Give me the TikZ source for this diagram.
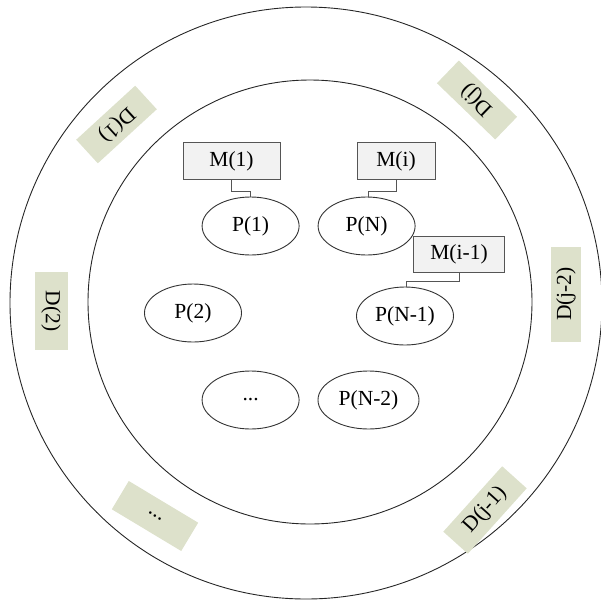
\documentclass[tikz,border=0pt]{standalone}
\usepackage{fontspec}
\setmainfont{Liberation Serif}
\usetikzlibrary{shapes.geometric}
\definecolor{diskfill}{HTML}{DDE1CB}
\definecolor{memfill}{HTML}{F2F2F2}
\definecolor{edgegray}{HTML}{555555}
\tikzset{
  ring/.style={draw=black!85, line width=0.9pt},
  proc/.style={ellipse, draw=black!80, line width=0.9pt, fill=white,
               minimum width=97pt, minimum height=58pt, inner sep=0pt},
  mem/.style={rectangle, draw=edgegray, line width=1pt, fill=memfill,
              minimum height=36.5pt, inner sep=0pt},
  disk/.style={rectangle, fill=diskfill, minimum width=80pt,
               minimum height=32pt, inner sep=0pt},
  link/.style={draw=edgegray, line width=1pt},
}
\begin{document}
\begin{tikzpicture}[x=1pt, y=-1pt, font=\fontsize{21.5}{24}\selectfont]
\useasboundingbox (0,0) rectangle (601,603);

% two concentric rings
\draw[ring] (306,303) circle[radius=296pt];
\draw[ring] (310,302) circle[radius=222pt];

% storage devices around the outer ring
\node[disk, rotate=-137.5] (d1) at (116.5,124.5) {D(1)};
\node[disk, rotate=-90, minimum width=78pt, minimum height=33pt] (d2) at (51,311) {D(2)};
\node[disk, rotate=-31, minimum width=81pt, minimum height=33pt] (dd) at (155,516) {...};
\node[disk, rotate=48, minimum width=88pt, minimum height=33pt] (dj1) at (485,510) {D(j-1)};
\node[disk, rotate=90, minimum width=95pt, minimum height=30pt] (dj2) at (566,294) {D(j-2)};
\node[disk, rotate=136, minimum width=81pt, minimum height=31.5pt] (dj) at (477,100) {D(j)};

% processes
\node[proc] (p1) at (250.6,226) {P(1)};
\node[proc] (pn) at (366.6,226) {P(N)};
\node[proc] (p2) at (193,313) {P(2)};
\node[proc] (pn1) at (405,316) {P(N-1)};
\node[proc] (pdots) at (250.6,400) {...};
\node[proc, minimum width=101pt] (pn2) at (368.5,400) {P(N-2)};

% memories
\node[mem, minimum width=97pt] (m1) at (231.5,161) {M(1)};
\node[mem, minimum width=78pt] (mi) at (396,161) {M(i)};
\node[mem, minimum width=91pt] (mi1) at (459,254.5) {M(i-1)};

% memory-to-process links
\draw[link] (m1.south) -- ++(0,12) -| (p1.north);
\draw[link] (mi.south) -- ++(0,12) -| ([xshift=1.5pt]pn.north);
\draw[link] (mi1.south) -- ++(0,8.5) -| ([xshift=1pt]pn1.north);
\end{tikzpicture}
\end{document}
